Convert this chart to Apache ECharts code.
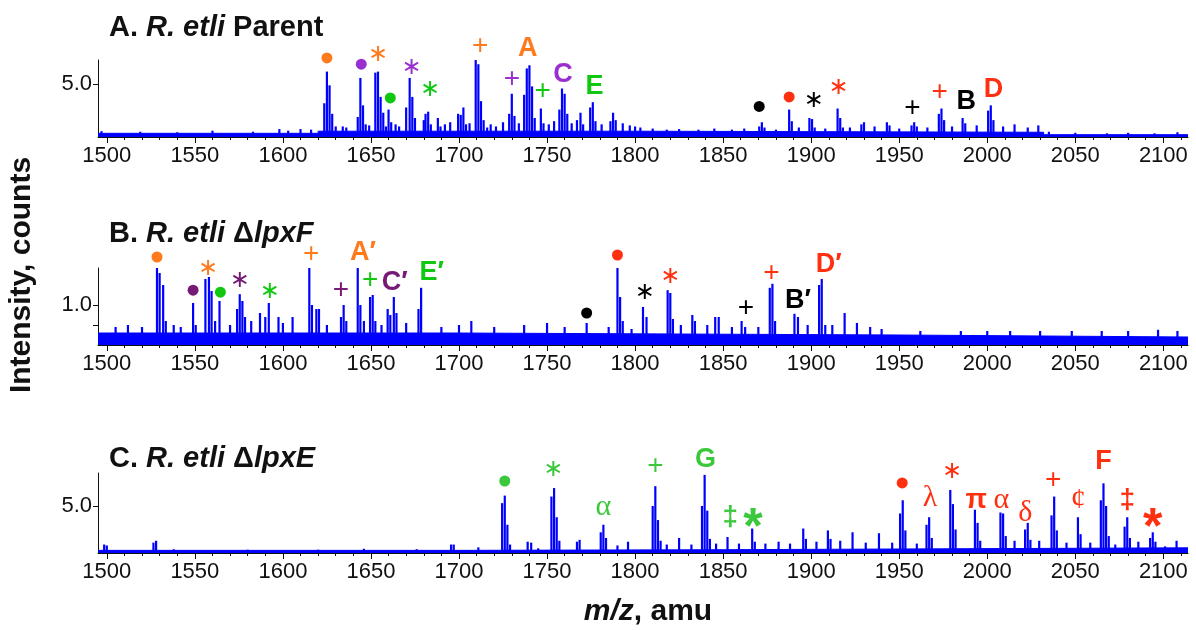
<!DOCTYPE html>
<html>
<head>
<meta charset="utf-8">
<script src="https://cdn.jsdelivr.net/npm/echarts@6/dist/echarts.min.js"></script>
<style>html,body{margin:0;background:#fff}#main{width:1196px;height:630px}</style>
</head>
<body>
<div id="main"></div>
<script>
// m/z range and tick labels
var mzMin = 1495, mzMax = 2114;
var mzTicks = [1500, 1550, 1600, 1650, 1700, 1750, 1800, 1850, 1900, 1950, 2000, 2050, 2100];

// A. parent: [m/z, intensity]
var peaksA = [
  [1497,0.55],[1519,0.5],[1540,0.45],[1560,0.6],[1583,0.5],[1598,0.75],[1603,0.6],[1610,0.75],[1616,0.7],
  [1623.5,3.2],[1625,6.2],[1626.5,4.9],[1628,2.2],[1630,1.0],[1634,1.0],[1636,0.9],
  [1642.5,1.9],[1644,5.6],[1645.5,3.0],[1647,1.2],[1649,1.1],
  [1652.5,6.1],[1654,6.2],[1655.5,3.8],[1657,2.3],[1658.5,1.0],
  [1660,2.6],[1661.5,1.4],[1664,1.2],[1666,1.0],
  [1670,2.8],[1672,5.6],[1673.5,3.8],[1675,1.8],
  [1680,1.6],[1681,2.2],[1682.5,2.4],[1684,1.2],[1688,1.8],[1689.5,1.0],[1692,1.2],[1695,1.4],
  [1699.5,2.2],[1701,2.1],[1702.5,2.8],[1704,1.2],[1706,1.3],
  [1709.5,7.3],[1711,6.9],[1712.5,3.4],[1714,1.6],[1716,0.9],[1718,1.2],[1721,1.0],[1725,1.4],
  [1728.5,2.2],[1730,4.1],[1731.5,2.0],[1734,1.3],
  [1737,4.0],[1738.5,6.5],[1740,6.8],[1741.5,4.8],[1743,1.8],
  [1746.5,2.7],[1748,1.3],[1751,1.2],[1754,1.5],
  [1757,2.6],[1758.5,4.6],[1760,4.1],[1761.5,2.2],[1764,1.3],
  [1767,1.6],[1769,2.3],[1770.5,1.2],[1774.5,2.8],[1776,3.3],[1777.5,1.5],[1781,1.2],
  [1786,1.5],[1787.5,2.3],[1789,1.6],[1793,1.3],[1797,1.1],[1800,1.0],[1803,0.9],
  [1810,0.8],[1818,0.7],[1825,0.75],[1836,0.7],[1845,0.8],[1855,0.7],[1862,0.8],
  [1870.5,1.0],[1872,1.4],[1873.5,0.9],[1880,0.7],[1887.5,2.6],[1889,1.5],[1893,0.9],
  [1899,1.8],[1900.5,1.7],[1902,0.9],[1908,0.8],[1915,2.7],[1916.5,1.8],[1918,0.9],[1922,0.9],
  [1928.5,1.2],[1930,1.4],[1936,1.0],[1943,1.4],[1944.5,1.1],[1950,0.8],
  [1957,1.1],[1958.5,1.4],[1960,1.0],[1966,0.9],[1972.5,2.2],[1974,2.7],[1975.5,1.6],[1980,1.0],
  [1986,1.8],[1987.5,1.3],[1994,1.1],[2000.5,2.5],[2002,3.0],[2003.5,1.6],[2009,1.0],
  [2015.5,1.2],[2023,0.9],[2029,1.1],[2035,0.5],[2050,0.4],[2068,0.35],[2080,0.4],[2095,0.35],[2108,0.45]
];
var floorA = [[1495,1620,0.35],[1620,1800,0.55],[1800,2032,0.45],[2032,2114,0.22]];

// B. lpxF mutant
var peaksB = [
  [1505,0.45],[1512,0.5],[1520,0.45],
  [1528.5,1.93],[1530,1.8],[1532,1.5],[1533.5,0.6],[1538,0.5],[1542,0.45],
  [1549,1.05],[1550.5,0.5],[1556,1.65],[1558,1.7],[1559.5,1.35],[1561.5,0.6],[1564,1.1],[1570,0.5],
  [1574,0.9],[1575.5,1.27],[1577,1.1],[1578.5,0.7],[1582,0.6],[1587,0.8],[1590,0.7],[1592,1.05],
  [1597.5,0.7],[1600,0.55],[1605.5,0.7],
  [1615,1.93],[1616.5,1.0],[1619,0.9],[1620.5,0.9],[1625,0.5],
  [1633,0.7],[1634.5,1.0],[1636,0.6],[1642.5,1.93],[1644,1.0],[1646,0.6],
  [1649.5,1.2],[1651,1.25],[1652.5,0.6],[1656,0.5],
  [1659.5,0.9],[1661,0.75],[1663,1.2],[1664.5,0.8],[1670,0.55],[1677,0.9],[1678.5,1.43],
  [1690,0.45],[1700,0.5],[1707,0.6],[1720,0.45],[1737,0.5],[1750,0.55],[1760,0.45],
  [1772.5,0.55],[1785,0.45],[1790,1.93],[1791.5,1.2],[1793,0.6],[1798,0.4],
  [1804.5,0.95],[1806.5,0.7],[1818.5,1.37],[1820,1.3],[1821.5,0.65],[1826,0.5],
  [1832.5,0.75],[1834,0.6],[1841,0.5],[1845.5,0.7],[1847.5,0.7],[1855,0.45],
  [1860.5,0.6],[1862.5,0.45],[1870,0.45],[1876.5,1.43],[1878,1.53],[1879.5,0.6],
  [1890.5,0.78],[1892.5,0.7],[1898,0.5],[1904.5,1.5],[1906,1.65],[1908,0.5],[1912,0.5],
  [1919,0.8],[1926,0.55],[1933.5,0.45],[1940,0.4],[1962,0.35],[1985,0.35],[2000,0.35],
  [2013,0.35],[2030,0.35],[2048,0.35],[2065,0.35],[2080,0.35],[2097,0.38],[2108,0.35]
];
var floorB = [[1495,1700,0.3],[1700,1950,0.25],[1950,2114,0.2]];

// C. lpxE mutant
var peaksC = [
  [1498.5,0.9],[1500,0.8],[1526.5,1.1],[1528,1.3],[1538,0.4],[1580,0.35],[1620,0.35],[1646,0.45],
  [1676,0.4],[1695.5,0.9],[1697,0.9],[1711,0.6],
  [1724.5,5.3],[1726,6.1],[1727.5,3.0],[1729,0.9],[1739,1.2],[1741,1.1],[1745,0.5],
  [1752.5,6.0],[1754,6.9],[1755.5,3.8],[1757,1.3],[1767,1.2],[1768.5,1.4],
  [1780.5,2.2],[1782,3.0],[1783.5,1.6],[1790,0.8],[1796,1.2],
  [1810,5.0],[1811.5,7.1],[1813,3.5],[1814.5,1.3],[1818,0.9],[1825,1.6],[1832,0.9],
  [1838,5.0],[1839.5,8.3],[1841,4.5],[1842.5,1.5],[1846,1.0],[1852.5,1.7],[1859,1.0],
  [1866.5,2.6],[1868,1.2],[1874,1.0],[1881.5,1.2],[1888,1.0],[1895.5,2.6],[1897,1.5],
  [1903,1.2],[1909.5,2.4],[1911,1.5],[1916.5,1.3],[1923.5,2.2],[1931,1.1],[1938.5,2.1],[1946,1.1],
  [1950.5,4.2],[1952,5.6],[1953.5,2.4],[1960,1.0],[1965.5,3.0],[1967,3.8],[1968.5,1.6],
  [1979,6.7],[1980.5,5.2],[1982,2.5],[1993,4.6],[1994.5,3.2],[1996,1.3],
  [2007.5,4.3],[2009,4.2],[2010.5,1.8],[2015.5,1.3],[2021.5,2.5],[2023,3.2],[2024.5,1.4],[2029.5,1.3],
  [2036.5,4.0],[2038,6.0],[2039.5,2.4],[2045,1.1],[2051.5,3.8],[2053,2.0],[2058.5,1.1],
  [2064.5,5.6],[2066,7.4],[2067.5,5.0],[2069,1.8],[2072.7,0.9],[2078,2.8],[2079.5,3.8],[2081,1.6],
  [2085.8,1.2],[2092.5,1.6],[2094,2.2],[2095.5,1.2],[2101,0.7],[2107.5,1.3]
];
var floorC = [[1495,1700,0.28],[1700,1850,0.35],[1850,2114,0.55]];

// peak annotations: [m/z, height, symbol, colour family]
var annA = [
  [1625,7.5,'●','o'],[1644.5,6.9,'●','p'],[1654,7.8,'∗','o'],[1661,3.7,'●','g'],[1673,6.6,'∗','p'],
  [1683.5,4.5,'∗','g'],[1712,8.6,'+','o'],[1730,5.5,'+','p'],[1739,8.4,'A','o'],[1747.5,4.3,'+','g'],
  [1759,5.9,'C','p'],[1777,4.8,'E','g'],[1870.5,2.9,'●','k'],[1887.5,3.8,'●','r'],[1901.5,3.4,'∗','k'],
  [1915.5,4.7,'∗','r'],[1957.5,2.7,'+','k'],[1973,4.2,'+','r'],[1988,3.4,'B','k'],[2003.5,4.5,'D','r']
];
var annB = [
  [1528.5,2.2,'●','o'],[1549,1.37,'●','q'],[1557.5,1.9,'∗','o'],[1564.5,1.32,'●','g'],[1575.5,1.6,'∗','q'],
  [1592.5,1.32,'∗','g'],[1616,2.27,'+','o'],[1633,1.37,'+','q'],[1645.5,2.32,'A′','o'],[1649.5,1.62,'+','g'],
  [1663.5,1.57,'C′','q'],[1684.5,1.8,'E′','g'],[1772.5,0.8,'●','k'],[1790,2.25,'●','r'],[1805.5,1.3,'∗','k'],
  [1820,1.7,'∗','r'],[1863,0.93,'+','k'],[1877.5,1.8,'+','r'],[1892.5,1.12,'B′','k'],[1910,2.0,'D′','r']
];
var annC = [
  [1726,7.65,'●','h'],[1753.5,8.8,'∗','h'],[1782,4.9,'α','h'],[1811.5,9.25,'+','h'],[1840,9.9,'G','h'],
  [1854,3.8,'‡','h'],[1867,3.8,'*','h'],[1951.7,7.45,'●','r'],[1967.5,5.85,'λ','r'],[1980,8.6,'∗','r'],
  [1993.8,5.6,'π','r'],[2008,5.6,'α','r'],[2021.6,4.25,'δ','r'],[2037.5,7.75,'+','r'],[2051.7,5.6,'¢','r'],
  [2066,9.7,'F','r'],[2079.5,5.6,'‡','r'],[2094,3.8,'*','r']
];

var palette = { o: '#ff7a1c', p: '#9a2fd0', q: '#761a76', g: '#10c810', h: '#3cc83c', r: '#ff3010', k: '#000000' };
var FONT = 'Arial';
var BLUE = '#0000ff';

var grids = [
  { left: 98, right: 8, top: 60, height: 77 },
  { left: 98, right: 8, top: 268, height: 77 },
  { left: 98, right: 8, top: 473, height: 80 }
];
var yMax = [7.3, 1.925, 8.5];
var yTicks = [[5], [0.5, 1.0], [5]];
var yLabels = [[5], [1.0], [5]];

var minorTicks = [];
for (var m = 1500; m <= 2110; m += 10) minorTicks.push(m);

var xAxes = [], yAxes = [], series = [];
[0, 1, 2].forEach(function (i) {
  xAxes.push({
    type: 'value', gridIndex: i, min: mzMin, max: mzMax,
    axisLine: { show: true, lineStyle: { color: '#111', width: 1 } },
    axisTick: { show: true, customValues: mzTicks, length: 6, lineStyle: { color: '#111' } },
    axisLabel: { customValues: mzTicks, fontSize: 22, color: '#111', fontFamily: FONT, margin: 8,
      formatter: function (v) { return String(v); } },
    splitLine: { show: false }
  });
  xAxes.push({
    type: 'value', gridIndex: i, min: mzMin, max: mzMax, position: 'bottom',
    axisLine: { show: false },
    axisTick: { show: true, customValues: minorTicks, length: 3, lineStyle: { color: '#111' } },
    axisLabel: { show: false }, splitLine: { show: false }
  });
  yAxes.push({
    type: 'value', gridIndex: i, min: 0, max: yMax[i],
    axisLine: { show: true, lineStyle: { color: '#111', width: 1 } },
    axisTick: { show: true, customValues: yTicks[i], length: 5, lineStyle: { color: '#111' } },
    axisLabel: { customValues: yLabels[i], fontSize: 22, color: '#111', fontFamily: FONT, margin: 6,
      formatter: function (v) { return v.toFixed(1); } },
    splitLine: { show: false }
  });
});

function floorPoints(f) {
  var pts = [];
  f.forEach(function (s) { pts.push([s[0], s[2]]); pts.push([s[1], s[2]]); });
  return pts;
}

function annItems(list) {
  return list.map(function (a) {
    var t = a[2], c = palette[a[3]];
    var lab = { show: true, position: 'inside', formatter: t, color: c, opacity: 1, fontFamily: FONT, fontSize: 28 };
    var item = { value: [a[0], a[1]], symbol: 'circle', symbolSize: 0, itemStyle: { color: c, opacity: 1 }, label: lab };
    if (t === '●') { item.symbolSize = 11; lab.show = false; }
    else if (/^[A-Z]/.test(t)) { lab.fontWeight = 'bold'; lab.fontSize = 27; }
    else if (t === '∗') { lab.fontFamily = 'DejaVu Sans'; lab.fontSize = 24; }
    else if (t === 'α' || t === 'λ' || t === 'δ' || t === '¢') { lab.fontFamily = 'Liberation Serif'; lab.fontSize = 30; }
    else if (t === 'π' || t === '‡') { lab.fontWeight = 'bold'; lab.fontSize = 28; }
    else if (t === '*') { lab.fontWeight = 'bold'; lab.fontSize = 50; lab.offset = [0, 12]; }
    return item;
  });
}

[[peaksA, floorA, annA], [peaksB, floorB, annB], [peaksC, floorC, annC]].forEach(function (p, i) {
  series.push({
    type: 'line', xAxisIndex: 2 * i, yAxisIndex: i, data: floorPoints(p[1]),
    symbol: 'none', lineStyle: { color: BLUE, width: 1 }, areaStyle: { color: BLUE, opacity: 1 },
    silent: true, animation: false
  });
  series.push({
    type: 'bar', xAxisIndex: 2 * i, yAxisIndex: i, data: p[0], barWidth: 2.2,
    itemStyle: { color: BLUE, opacity: 1 }, silent: true, animation: false
  });
  series.push({
    type: 'scatter', xAxisIndex: 2 * i, yAxisIndex: i, data: annItems(p[2]),
    itemStyle: { opacity: 1 }, clip: false, silent: true, animation: false, z: 5
  });
});

var titleRich = {
  n: { fontSize: 29, fontWeight: 'bold', fontFamily: FONT, color: '#111' },
  i: { fontSize: 29, fontWeight: 'bold', fontStyle: 'italic', fontFamily: FONT, color: '#111' }
};
var titles = [
  { left: 104, top: 8, text: '{n|A. }{i|R. etli}{n| Parent}' },
  { left: 104, top: 214, text: '{n|B. }{i|R. etli }{n|Δ}{i|lpxF}' },
  { left: 104, top: 439, text: '{n|C. }{i|R. etli }{n|Δ}{i|lpxE}' }
].map(function (t) { t.textStyle = { rich: titleRich }; return t; });

var chart = echarts.init(document.getElementById('main'), null, { renderer: 'canvas' });
chart.setOption({
  backgroundColor: '#fff',
  animation: false,
  title: titles,
  grid: grids,
  xAxis: xAxes,
  yAxis: yAxes,
  series: series,
  graphic: [
    { type: 'text', x: 22, y: 275, rotation: Math.PI / 2,
      style: { text: 'Intensity, counts', fontSize: 30, fontWeight: 'bold', fontFamily: FONT, fill: '#111',
        align: 'center', verticalAlign: 'middle' } },
    { type: 'text', x: 648, y: 612,
      style: { text: '{i|m/z}{n|, amu}', align: 'center', verticalAlign: 'middle',
        rich: { i: { fontSize: 30, fontWeight: 'bold', fontStyle: 'italic', fontFamily: FONT, fill: '#111' },
                n: { fontSize: 30, fontWeight: 'bold', fontFamily: FONT, fill: '#111' } } } }
  ]
});
</script>
</body>
</html>
